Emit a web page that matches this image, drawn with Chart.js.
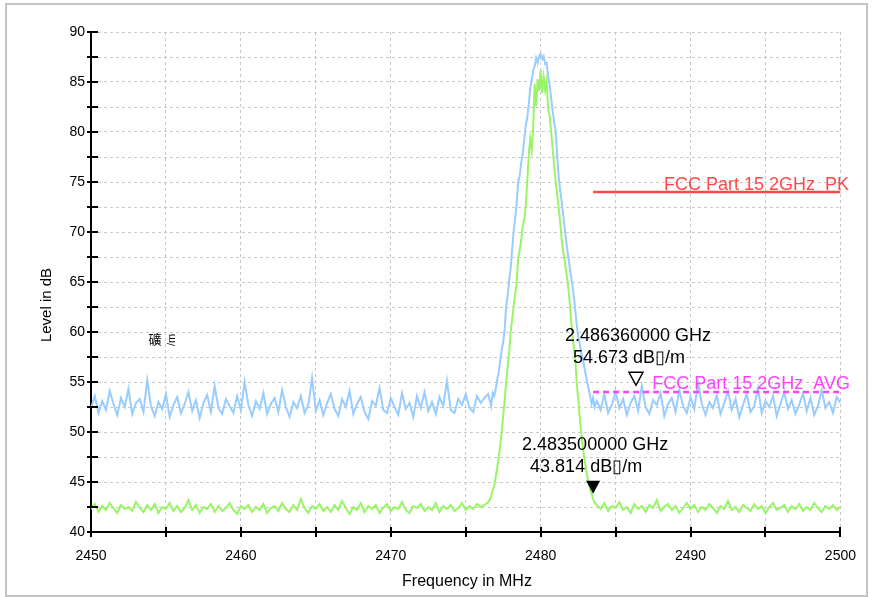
<!DOCTYPE html>
<html>
<head>
<meta charset="utf-8">
<script src="https://cdn.jsdelivr.net/npm/chart.js@4"></script>
<style>
  html, body { margin: 0; padding: 0; background: #fff; }
  #wrap { position: relative; width: 872px; height: 597px; }
  #frame { position: absolute; left: 5px; top: 3px; width: 859px; height: 590px; border: 2px solid #c4c4c4; pointer-events: none; }
  canvas { position: absolute; left: 0; top: 0; }
</style>
</head>
<body>
<div id="wrap">
  <canvas id="grafico" width="872" height="597"></canvas>
  <div id="frame"></div>
</div>
<script>
// frequencies in MHz (left noise floor, signal region, right noise floor)
function range(a, b, step) {
    return Array.from({ length: Math.round((b - a) / step) + 1 }, (_, i) => +(a + i * step).toFixed(2))
}
const freqLeft = range(2450, 2476.5, 0.25)
const freqPeak = range(2476.6, 2483.6, 0.1)
const freqRight = range(2483.75, 2500, 0.25)

// PK trace (blue), dB
const pkLeft = [
    52.4, 53.6, 51.9, 53.1, 52.2, 54.1, 52.8, 51.7, 53.4, 52.5,
    54.3, 51.8, 52.9, 53.3, 52.0, 55.2, 52.6, 51.6, 53.0, 52.3,
    53.8, 51.5, 52.7, 53.5, 51.9, 52.8, 54.0, 52.1, 53.2, 51.4,
    52.9, 53.7, 52.0, 54.6, 52.4, 51.8, 53.3, 52.6, 51.9, 53.6,
    52.2, 55.0, 52.7, 51.6, 53.1, 52.3, 53.9, 51.8, 52.8, 53.4,
    52.0, 54.2, 52.5, 51.5, 53.0, 52.4, 53.6, 51.9, 52.7, 55.4,
    52.1, 53.2, 51.7, 52.9, 53.8, 52.3, 51.6, 53.3, 52.5, 54.1,
    51.8, 52.8, 53.5, 52.0, 51.3, 53.1, 52.6, 54.4, 52.2, 51.9,
    53.4, 52.5, 51.7, 53.9, 52.3, 52.9, 51.5, 53.6, 52.4, 54.0,
    52.1, 53.0, 51.8, 53.5, 52.6, 55.1, 52.2, 51.9, 53.3, 52.7,
    53.8, 52.4, 52.0, 53.6, 52.9, 53.4, 53.8
]
const pkPeak = [
    53.2, 52.6, 53.9, 53.6, 54.3, 55.2, 56.0, 57.1, 58.2, 59.0,
    60.3, 62.6, 63.6, 65.2, 66.4, 68.3, 70.1, 71.4, 72.8, 75.0,
    75.6, 76.9, 77.8, 79.2, 80.6, 81.4, 82.7, 84.3, 85.2, 86.1,
    86.6, 87.4, 86.9, 87.6, 87.8, 87.3, 87.6, 86.8, 86.9, 85.6,
    84.7, 83.4, 82.1, 81.0, 80.1, 77.7, 75.6, 74.2, 73.1, 71.8,
    70.4, 69.2, 68.0, 66.9, 65.8, 64.9, 63.7, 62.4, 60.8, 59.6,
    58.9, 58.0, 57.4, 56.6, 55.8, 55.0, 54.3, 53.6, 52.8, 53.4,
    52.5
]
const pkRight = [
    53.1, 52.2, 53.8, 51.9, 52.7, 54.0, 52.4, 53.3, 51.7, 52.9,
    53.6, 52.1, 54.6, 52.5, 51.8, 53.2, 52.7, 53.9, 51.6, 52.8,
    53.4, 52.0, 54.2, 52.6, 51.9, 53.5, 52.3, 55.0, 52.8, 51.7,
    53.0, 52.4, 53.7, 51.8, 52.9, 54.1, 52.2, 53.3, 51.5, 52.7,
    53.8, 52.0, 52.6, 54.4, 51.9, 53.1, 52.5, 53.6, 51.6, 52.8,
    54.0, 52.3, 53.2, 51.8, 52.7, 53.9, 52.1, 53.4, 51.7, 52.6,
    54.2, 52.4, 53.0, 51.9, 53.5, 52.9
]

// AVG trace (green), dB
const avLeft = [
    42.3, 42.8, 42.0, 42.6, 42.2, 42.9, 42.4, 41.9, 42.7, 42.3,
    42.5, 42.1, 43.0, 42.4, 42.0, 42.7, 42.2, 42.8, 41.9, 42.5,
    42.3, 42.9, 42.1, 42.6, 42.0, 42.4, 43.2, 42.2, 42.7, 41.9,
    42.5, 42.3, 42.8, 42.0, 42.6, 42.1, 42.4, 42.9, 42.2, 41.8,
    42.6, 42.3, 42.7, 42.0, 42.5, 42.2, 42.8, 41.9, 42.4, 42.6,
    42.1, 42.9, 42.3, 42.0, 42.7, 42.2, 43.3, 42.4, 41.9, 42.6,
    42.3, 42.8, 42.1, 42.5, 42.0, 42.7, 42.2, 43.1, 42.4, 41.8,
    42.5, 42.2, 42.9, 42.0, 42.6, 42.3, 42.7, 41.9, 42.4, 42.8,
    42.1, 42.5, 42.3, 43.0, 42.2, 41.9, 42.6, 42.4, 42.8, 42.1,
    42.5, 42.2, 42.9, 42.0, 42.6, 42.3, 42.7, 42.1, 42.4, 42.9,
    42.2, 42.6, 42.3, 42.8, 42.5, 42.7, 43.0
]
const avPeak = [
    43.2, 43.6, 44.2, 44.6, 45.5, 46.4, 47.5, 48.6, 50.0, 51.6,
    53.2, 55.0, 56.6, 58.0, 60.0, 61.3, 62.6, 63.8, 65.0, 67.4,
    68.2, 69.1, 70.6, 71.2, 72.5, 74.9, 77.6, 79.3, 78.2, 80.4,
    84.8, 82.6, 85.3, 84.1, 86.2, 83.9, 85.5, 84.2, 85.1, 82.3,
    81.6, 80.0, 78.4, 76.6, 75.0, 73.8, 72.4, 71.0, 69.3, 68.0,
    67.2, 66.1, 65.0, 63.6, 61.8, 60.0, 58.6, 57.5, 55.0, 53.4,
    51.6, 50.0, 48.7, 47.5, 46.6, 45.6, 45.0, 44.3, 43.8, 43.3,
    42.9
]
const avRight = [
    42.7, 42.3, 42.9, 42.1, 42.6, 42.4, 43.0, 42.2, 42.5, 41.9,
    42.8, 42.3, 42.6, 42.0, 42.7, 42.4, 43.2, 42.1, 42.5, 42.8,
    42.2, 42.6, 41.9, 42.4, 42.9, 42.3, 42.7, 42.0, 42.5, 42.2,
    42.8, 42.4, 41.9, 42.6, 42.3, 43.1, 42.2, 42.5, 42.0, 42.7,
    42.4, 42.1, 42.8, 42.3, 42.6, 41.9, 42.5, 42.9, 42.2, 42.4,
    42.7, 42.0, 42.6, 42.3, 42.8, 42.1, 42.5, 42.2, 42.9, 42.4,
    42.0, 42.6, 42.3, 42.7, 42.2, 42.5
]

// limit lines
const limitFreq = [2483.5, 2500]
const limitPK = [74, 74]
const limitAVG = [54, 54]
const limitNames = ['FCC Part 15 2GHz  PK', 'FCC Part 15 2GHz  AVG']

// markers
const markerFreq = [2486.36, 2483.5]
const markerLevel = [54.673, 43.814]
const markerText = [
    ['2.486360000 GHz', '54.673 dB\u25AF/m'],
    ['2.483500000 GHz', '43.814 dB\u25AF/m']
]

const FONT = '"Liberation Sans", Arial, sans-serif'

function pontos(xs, ys) {
    return xs.map((x, i) => ({ x: x, y: ys[i] }))
}

const pkData = pontos(freqLeft.concat(freqPeak, freqRight), pkLeft.concat(pkPeak, pkRight))
const avData = pontos(freqLeft.concat(freqPeak, freqRight), avLeft.concat(avPeak, avRight))

const extras = {
    id: 'extras',
    afterDraw(chart) {
        const c = chart.ctx
        const xs = chart.scales.x
        const ys = chart.scales.y
        const area = chart.chartArea
        c.save()

        // tick marks crossing the axes
        c.strokeStyle = '#000'
        c.lineWidth = 2
        for (let v = 40; v <= 90; v += 2.5) {
            const y = Math.round(ys.getPixelForValue(v))
            c.beginPath()
            c.moveTo(area.left - 4, y)
            c.lineTo(area.left + 7, y)
            c.stroke()
        }
        for (let v = 2450; v <= 2500; v += 5) {
            const x = Math.round(xs.getPixelForValue(v))
            c.beginPath()
            c.moveTo(x, area.bottom - 5)
            c.lineTo(x, area.bottom + 5)
            c.stroke()
        }

        // limit labels
        c.font = '18px ' + FONT
        c.textAlign = 'right'
        c.textBaseline = 'alphabetic'
        c.fillStyle = '#ff4848'
        c.fillText(limitNames[0], 849, ys.getPixelForValue(limitPK[0]) - 2)
        c.fillStyle = '#ff40ff'
        c.fillText(limitNames[1], 850, ys.getPixelForValue(limitAVG[0]) - 3)

        // markers
        c.fillStyle = '#000'
        c.textAlign = 'center'
        markerFreq.forEach((f, i) => {
            const x = xs.getPixelForValue(f)
            const y = ys.getPixelForValue(markerLevel[i])
            c.beginPath()
            c.moveTo(x - 7, y - 13)
            c.lineTo(x + 7, y - 13)
            c.lineTo(x, y)
            c.closePath()
            if (i === 0) {
                c.lineWidth = 1.5
                c.stroke()
            } else {
                c.fill()
            }
            c.fillText(markerText[i][0], x + 2, y - 44)
            c.fillText(markerText[i][1], x - 7, y - 22)
        })

        // stray unit label
        c.font = '13px "Noto Sans CJK SC", sans-serif'
        c.textBaseline = 'middle'
        c.fillText('礦', 155, 339)
        c.save()
        c.translate(172, 340)
        c.rotate(-Math.PI / 2)
        c.font = '11px ' + FONT
        c.fillText('/m', 0, 0)
        c.restore()

        // axis titles
        c.font = '15px ' + FONT
        c.save()
        c.translate(47, 305)
        c.rotate(-Math.PI / 2)
        c.fillText('Level in dB', 0, 0)
        c.restore()
        c.font = '16px ' + FONT
        c.fillText('Frequency in MHz', 467, 582)

        c.restore()
    }
}

const ctx = document.getElementById('grafico')

const grafico = new Chart(ctx, {
    type: 'line',
    data: {
        datasets: [
            {
                label: 'PK limit',
                data: pontos(limitFreq, limitPK),
                borderColor: '#ff4848',
                borderWidth: 2.5,
                pointRadius: 0
            },
            {
                label: 'AVG limit',
                data: pontos(limitFreq, limitAVG),
                borderColor: '#ff40ff',
                borderWidth: 2.5,
                borderDash: [6, 4],
                pointRadius: 0
            },
            {
                label: 'AVG',
                data: avData,
                borderColor: '#99f466',
                borderWidth: 2,
                pointRadius: 0
            },
            {
                label: 'PK',
                data: pkData,
                borderColor: '#99ccff',
                borderWidth: 2,
                pointRadius: 0
            }
        ]
    },
    options: {
        responsive: false,
        animation: false,
        devicePixelRatio: 1,
        layout: { padding: { top: 32, right: 31, left: 0, bottom: 0 } },
        plugins: {
            legend: { display: false },
            tooltip: { enabled: false }
        },
        scales: {
            x: {
                type: 'linear',
                min: 2450,
                max: 2500,
                afterFit: s => { s.height = 65 },
                grid: { color: '#c8c8c8', lineWidth: 1, drawTicks: false },
                border: { color: '#000', width: 2, dash: [3, 3] },
                ticks: {
                    stepSize: 5,
                    autoSkip: false,
                    maxRotation: 0,
                    padding: 16,
                    color: '#000',
                    font: { family: FONT, size: 14 },
                    callback: v => v % 10 === 0 ? v : ''
                }
            },
            y: {
                min: 40,
                max: 90,
                afterFit: s => { s.width = 91 },
                grid: { color: '#c8c8c8', lineWidth: 1, drawTicks: false },
                border: { color: '#000', width: 2, dash: [3, 3] },
                ticks: {
                    stepSize: 2.5,
                    autoSkip: false,
                    padding: 6,
                    color: '#000',
                    font: { family: FONT, size: 14 },
                    callback: v => v % 5 === 0 ? v : ''
                }
            }
        }
    },
    plugins: [extras]
})
</script>
</body>
</html>
